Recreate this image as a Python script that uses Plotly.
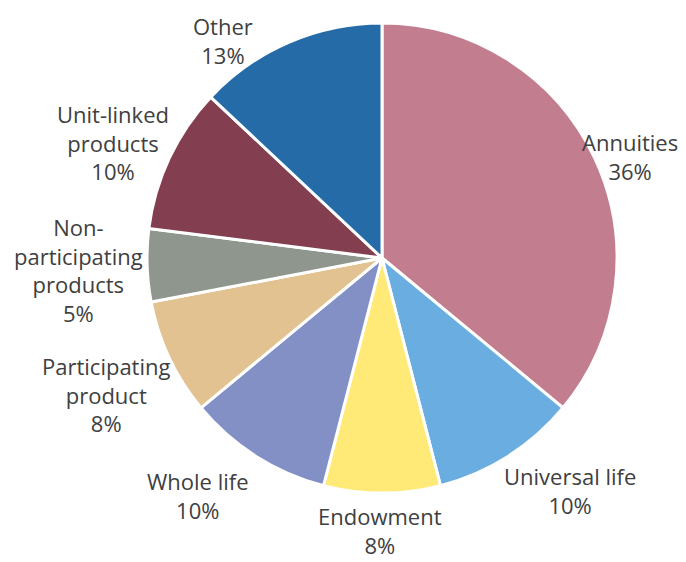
import math
import plotly.graph_objects as go

categories = ["Annuities", "Universal life", "Endowment", "Whole life",
              "Participating product", "Non-participating products",
              "Unit-linked products", "Other"]
label_lines = ["Annuities", "Universal life", "Endowment", "Whole life",
               "Participating<br>product", "Non-<br>participating<br>products",
               "Unit-linked<br>products", "Other"]
values = [36, 10, 8, 10, 8, 5, 10, 13]
colors = ["#C27E8E", "#6AADE0", "#FFE977", "#8290C6",
          "#E1C290", "#8F968E", "#833E50", "#246BA8"]

# label fine-tuning (pixels) relative to the slice mid-angle anchor
nudges = [(-15, -1), (-6, 3), (-2, 6), (-5, 8), (4, -9), (-2, 5), (2, -15), (-34, -2)]

PAGE_OFF = 8            # default body margin of the html page
W, H = 686 - PAGE_OFF, 562 - PAGE_OFF
cx, cy, r = 382 - PAGE_OFF, 258 - PAGE_OFF, 235
FONT = "Open Sans"
FS = 22
TXT = "#404040"

fig = go.Figure(go.Pie(
    labels=categories,
    values=values,
    textinfo="none",
    sort=False,
    direction="clockwise",
    rotation=0,
    marker=dict(colors=colors, line=dict(color="white", width=3)),
    showlegend=False,
    hoverinfo="label+percent",
    domain=dict(x=[(cx - r) / W, (cx + r) / W],
                y=[(H - cy - r) / H, (H - cy + r) / H]),
    automargin=False,
))

total = sum(values)
cum = 0
annotations = []
for lab, v, (dx, dy) in zip(label_lines, values, nudges):
    mid = (cum + v / 2) / total * 2 * math.pi
    cum += v
    ux, uy = math.sin(mid), -math.cos(mid)  # screen coords (y down)
    px = cx + ux * r + dx
    py = cy + uy * r + dy
    xa = "left" if ux > 0.3 else ("right" if ux < -0.3 else "center")
    ya = "top" if uy > 0.3 else "middle"
    pct = round(v / total * 100)
    annotations.append(dict(
        x=px / W, y=1 - py / H, xref="paper", yref="paper",
        text=f"{lab}<br>{pct}%", showarrow=False,
        xanchor=xa, yanchor=ya, align="center",
        font=dict(family=FONT, size=FS, color=TXT),
    ))

fig.update_layout(
    width=W, height=H,
    margin=dict(l=0, r=0, t=0, b=0),
    paper_bgcolor="white",
    plot_bgcolor="white",
    annotations=annotations,
)

fig.write_html("out.html")
